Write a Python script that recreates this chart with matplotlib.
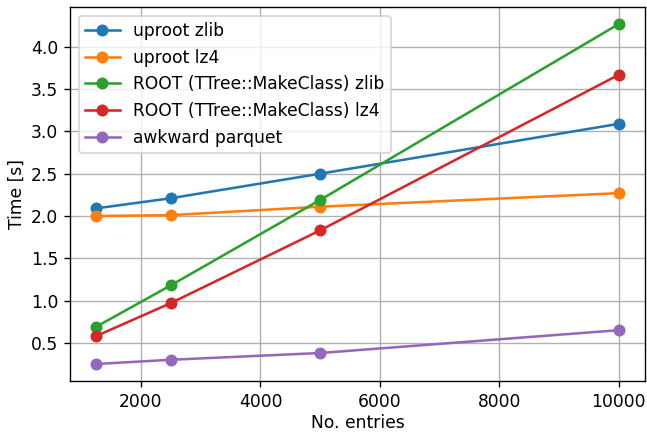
import matplotlib
matplotlib.use("Agg")
import matplotlib.pyplot as plt

entries = [1250, 2500, 5000, 10000]
uproot_zlib = [2.09, 2.21, 2.50, 3.09]
uproot_lz4 = [2.00, 2.01, 2.11, 2.27]
root_zlib = [0.69, 1.18, 2.19, 4.27]
root_lz4 = [0.58, 0.97, 1.83, 3.67]
awkward_parquet = [0.25, 0.30, 0.38, 0.65]

labels = ["uproot zlib", "uproot lz4", "ROOT (TTree::MakeClass) zlib",
          "ROOT (TTree::MakeClass) lz4", "awkward parquet"]
series = [uproot_zlib, uproot_lz4, root_zlib, root_lz4, awkward_parquet]

DPI = 123
fig = plt.figure(figsize=(647/DPI, 432/DPI), dpi=DPI)
ax = fig.add_axes([70/647, (432-381)/432, 575/647, 374/432])
for lab, s in zip(labels, series):
    ax.plot(entries, s, "o-", label=lab)
ax.set_xlabel("No. entries", labelpad=2)
ax.set_ylabel("Time [s]", labelpad=3)
ax.grid(True)
ax.legend()
fig.savefig("out.png", dpi=DPI)
